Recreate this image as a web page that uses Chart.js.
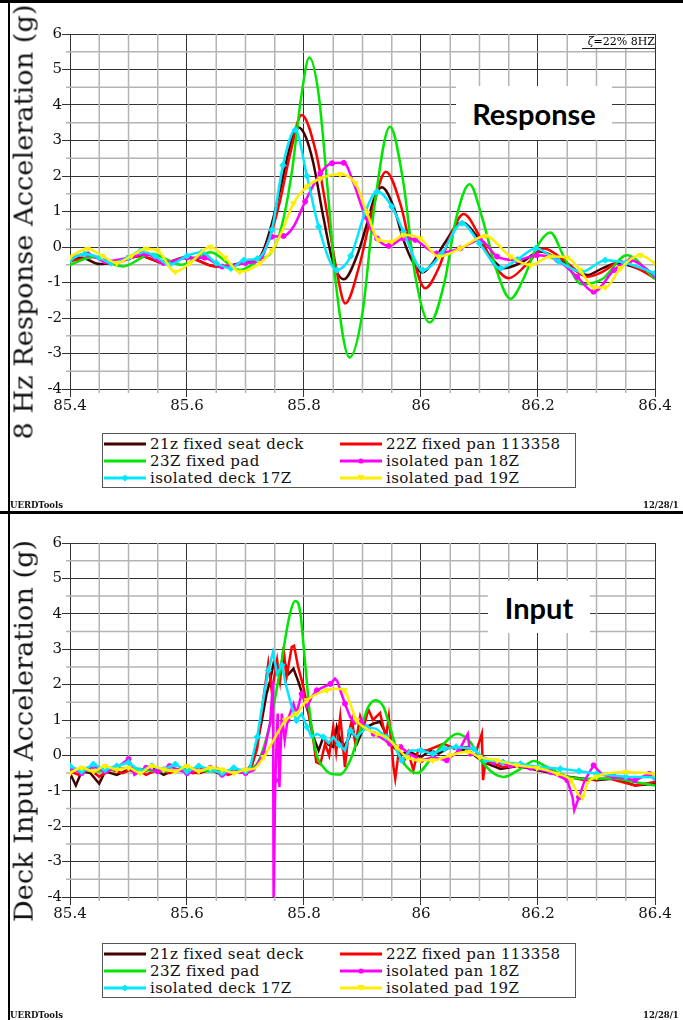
<!DOCTYPE html>
<html>
<head>
<meta charset="utf-8">
<script src="https://cdn.jsdelivr.net/npm/chart.js@4.4.1/dist/chart.umd.min.js"></script>
<style>
  body { margin: 0; width: 683px; height: 1020px; position: relative; overflow: hidden; background: #fff; font-family: "DejaVu Serif", serif; }
  .panel { position: absolute; left: 0; width: 683px; }
  .panel canvas { position: absolute; left: 0; top: 0; }
  .rule { position: absolute; background: #000; }
  .ytitle { position: absolute; font-size: 26px; white-space: nowrap; color: #111; transform-origin: center center; }
  .legend { position: absolute; left: 102px; width: 472px; height: 53px; border: 1px solid #555; background: #fff; }
  .item { position: absolute; height: 18px; display: flex; align-items: center; font-size: 15px; letter-spacing: 0.4px; color: #111; white-space: nowrap; }
  .item svg { margin-right: 4px; }
  .foot { position: absolute; font-size: 8.5px; font-weight: bold; color: #111; }
  .tag { position: absolute; background: #fff; font-family: Lato, sans-serif; font-weight: bold; color: #000; display: flex; align-items: center; justify-content: center; }
  .zeta { position: absolute; left: 582px; top: 36px; width: 73px; font-size: 11px; text-align: right; background: #fff; border-bottom: 1px solid #222; line-height: 12px; }
</style>
</head>
<body>

<div class="rule" style="left:0;top:0;width:683px;height:3px"></div>
<div class="rule" style="left:8px;top:0;width:2px;height:1020px"></div>
<div class="rule" style="left:0;top:511px;width:683px;height:3px"></div>

<div class="panel" id="topPanel" style="top:0;height:511px">
  <canvas id="respChart" width="683" height="512"></canvas>
</div>
<div class="panel" id="botPanel" style="top:513px;height:507px">
  <canvas id="inputChart" width="683" height="507"></canvas>
</div>

<script>
// ---- series names / colours (same for both charts) ----
const seriesNames = ["21z fixed seat deck", "22Z fixed pan 113358", "23Z fixed pad",
                     "isolated pan 18Z", "isolated deck 17Z", "isolated pad 19Z"];
const seriesColors = ["#440000", "#ff0000", "#00e600", "#ff00ff", "#00e8ff", "#ffee00"];
const seriesMarkers = [null, null, null, "circle", "rectRot", "triangle"];

const xMin = 85.4, xMax = 86.4, xMajor = 0.2, xMinor = 0.05;
const yMin = -4, yMax = 6, yMajor = 1, yMinor = 0.5;

// ---- Response chart (8 Hz response) ----
const respT_21z = [85.40, 85.42, 85.45, 85.48, 85.52, 85.56, 85.60, 85.64, 85.66, 85.70, 85.725, 85.742, 85.759, 85.776, 85.79, 85.803, 85.816, 85.833, 85.85, 85.868, 85.89, 85.908, 85.919, 85.933, 85.953, 85.97, 85.987, 86.002, 86.02, 86.04, 86.07, 86.10, 86.12, 86.141, 86.17, 86.204, 86.24, 86.284, 86.31, 86.335, 86.37, 86.40];
const respV_21z = [-0.35, -0.3, -0.48, -0.42, -0.25, -0.45, -0.28, -0.52, -0.55, -0.42, -0.27, 0.48, 1.6, 2.83, 3.37, 3.1, 2.36, 0.85, -0.45, -0.91, -0.27, 0.67, 1.32, 1.68, 1.14, 0.2, -0.45, -0.72, -0.45, 0.1, 0.69, 0.2, -0.3, -0.6, -0.45, -0.13, -0.4, -0.79, -0.6, -0.46, -0.6, -0.84];

const respT_22Z = [85.40, 85.44, 85.47, 85.52, 85.56, 85.60, 85.65, 85.70, 85.725, 85.742, 85.759, 85.776, 85.796, 85.82, 85.84, 85.855, 85.8705, 85.895, 85.915, 85.94, 85.965, 85.985, 86.007, 86.03, 86.05, 86.073, 86.10, 86.125, 86.15, 86.18, 86.21, 86.25, 86.284, 86.31, 86.341, 86.37, 86.40];
const respV_22Z = [-0.4, -0.28, -0.48, -0.25, -0.45, -0.3, -0.55, -0.45, -0.3, 0.3, 1.3, 2.6, 3.72, 2.7, 0.9, -0.6, -1.59, -0.5, 0.9, 2.12, 1.2, -0.2, -1.16, -0.6, 0.3, 0.93, 0.3, -0.5, -0.88, -0.5, -0.04, -0.45, -0.84, -0.7, -0.41, -0.6, -0.88];

const respT_23Z = [85.40, 85.44, 85.49, 85.54, 85.59, 85.64, 85.69, 85.72, 85.75, 85.765, 85.78, 85.795, 85.809, 85.825, 85.84, 85.855, 85.878, 85.90, 85.92, 85.947, 85.97, 85.99, 86.015, 86.04, 86.06, 86.083, 86.105, 86.128, 86.153, 86.175, 86.198, 86.221, 86.245, 86.275, 86.31, 86.352, 86.40];
const respV_23Z = [-0.5, -0.28, -0.55, -0.2, -0.5, -0.15, -0.65, -0.4, 0.0, 0.8, 2.2, 4.2, 5.34, 4.3, 1.7, -1.1, -3.11, -1.85, 1.1, 3.39, 1.8, -0.8, -2.13, -1.0, 0.8, 1.77, 0.8, -0.6, -1.46, -0.9, 0.0, 0.41, -0.3, -1.05, -0.9, -0.23, -0.91];

const respT_18Z = [85.40, 85.43, 85.46, 85.50, 85.53, 85.56, 85.60, 85.63, 85.66, 85.70, 85.725, 85.745, 85.765, 85.782, 85.802, 85.828, 85.848, 85.868, 85.885, 85.905, 85.925, 85.945, 85.97, 85.99, 86.027, 86.067, 86.101, 86.13, 86.164, 86.198, 86.233, 86.267, 86.295, 86.33, 86.358, 86.40];
const respV_18Z = [-0.3, -0.2, -0.4, -0.3, -0.2, -0.45, -0.3, -0.3, -0.55, -0.45, -0.37, 0.29, 0.31, 0.57, 1.28, 2.08, 2.36, 2.37, 1.79, 0.85, 0.24, 0.03, 0.24, 0.2, -0.18, -0.04, 0.2, -0.27, -0.37, -0.23, -0.37, -0.84, -1.26, -0.65, -0.37, -0.8];

const respT_17Z = [85.40, 85.425, 85.45, 85.47, 85.50, 85.52, 85.545, 85.57, 85.60, 85.625, 85.65, 85.675, 85.697, 85.72, 85.745, 85.764, 85.785, 85.805, 85.825, 85.856, 85.88, 85.905, 85.925, 85.95, 85.97, 86.003, 86.035, 86.07, 86.10, 86.136, 86.165, 86.196, 86.235, 86.275, 86.315, 86.35, 86.40];
const respV_17Z = [-0.35, -0.2, -0.3, -0.45, -0.3, -0.12, -0.25, -0.5, -0.25, -0.15, -0.45, -0.6, -0.37, -0.33, 0.48, 2.3, 3.3, 2.0, 0.57, -0.65, -0.25, 1.0, 1.56, 1.14, 0.43, -0.65, -0.2, 0.67, 0.1, -0.6, -0.35, -0.04, -0.4, -0.7, -0.37, -0.45, -0.74];

const respT_19Z = [85.40, 85.43, 85.455, 85.48, 85.505, 85.53, 85.55, 85.58, 85.605, 85.64, 85.665, 85.69, 85.725, 85.745, 85.762, 85.782, 85.805, 85.828, 85.862, 85.888, 85.908, 85.927, 85.95, 85.97, 85.999, 86.03, 86.067, 86.11, 86.153, 86.187, 86.221, 86.25, 86.272, 86.295, 86.315, 86.341, 86.375, 86.40];
const respV_19Z = [-0.28, -0.05, -0.25, -0.45, -0.25, -0.05, -0.1, -0.7, -0.45, 0.0, -0.3, -0.7, -0.45, -0.1, 0.43, 1.23, 1.7, 1.93, 2.05, 1.79, 0.95, 0.2, 0.15, 0.34, 0.24, -0.27, -0.04, 0.31, -0.27, -0.51, -0.27, -0.3, -0.65, -1.14, -1.14, -0.6, -0.23, -0.46];

// ---- Input chart (deck input) ----
const inT_21z = [85.40, 85.41, 85.42, 85.435, 85.45, 85.46, 85.48, 85.50, 85.52, 85.54, 85.56, 85.58, 85.60, 85.62, 85.64, 85.66, 85.68, 85.70, 85.711, 85.72, 85.728, 85.736, 85.742, 85.748, 85.756, 85.765, 85.774, 85.782, 85.79, 85.799, 85.808, 85.816, 85.825, 85.833, 85.842, 85.85, 85.856, 85.866, 85.875, 85.882, 85.891, 85.90, 85.907, 85.919, 85.93, 85.94, 85.953, 85.965, 85.98, 86.00, 86.016, 86.03, 86.05, 86.065, 86.08, 86.107, 86.136, 86.165, 86.20, 86.25, 86.30, 86.33, 86.366, 86.40];
const inV_21z = [-0.5, -0.85, -0.45, -0.5, -0.8, -0.45, -0.55, -0.4, -0.5, -0.35, -0.55, -0.4, -0.45, -0.5, -0.4, -0.55, -0.45, -0.5, -0.23, 0.33, 1.0, 1.74, 2.1, 2.6, 2.3, 2.7, 2.3, 2.45, 2.1, 1.65, 1.18, 0.52, 0.14, 0.52, 0.3, 0.24, 0.8, 0.2, 0.43, 0.7, 0.35, 0.7, 0.8, 0.9, 0.95, 0.61, 0.24, 0.05, 0.1, -0.05, 0.14, 0.05, 0.24, 0.15, 0.14, -0.19, -0.38, -0.3, -0.42, -0.6, -0.7, -0.65, -0.85, -0.8];

const inT_22Z = [85.40, 85.415, 85.43, 85.45, 85.47, 85.49, 85.51, 85.53, 85.55, 85.57, 85.59, 85.61, 85.63, 85.65, 85.67, 85.69, 85.71, 85.72, 85.731, 85.739, 85.745, 85.754, 85.759, 85.765, 85.77, 85.779, 85.783, 85.79, 85.799, 85.808, 85.816, 85.821, 85.828, 85.836, 85.843, 85.85, 85.855, 85.862, 85.87, 85.876, 85.882, 85.888, 85.896, 85.902, 85.91, 85.918, 85.93, 85.94, 85.945, 85.953, 85.956, 85.962, 85.97, 85.978, 85.987, 85.995, 86.01, 86.039, 86.055, 86.08, 86.095, 86.104, 86.106, 86.11, 86.12, 86.14, 86.17, 86.20, 86.238, 86.28, 86.32, 86.366, 86.40];
const inV_22Z = [-0.45, -0.55, -0.35, -0.6, -0.4, -0.5, -0.35, -0.55, -0.4, -0.5, -0.35, -0.5, -0.45, -0.35, -0.55, -0.45, -0.35, 0.2, 1.65, 2.6, 1.8, 2.7, 2.1, 3.06, 2.2, 3.06, 3.1, 2.5, 1.93, 1.18, 0.43, -0.19, -0.25, 0.33, 0.0, 0.8, 0.1, 1.1, -0.33, 0.6, 1.0, 0.3, 1.1, 0.8, 1.3, 1.0, 1.2, 0.5, 1.1, -0.33, -0.66, 0.1, -0.2, 0.1, -0.42, 0.15, 0.14, 0.33, 0.2, 0.24, 0.15, 0.61, -0.7, -0.2, -0.2, -0.33, -0.3, -0.33, -0.56, -0.7, -0.65, -0.85, -0.75];

const inT_23Z = [85.40, 85.45, 85.50, 85.55, 85.60, 85.65, 85.70, 85.72, 85.742, 85.759, 85.776, 85.785, 85.793, 85.802, 85.81, 85.821, 85.833, 85.845, 85.862, 85.879, 85.896, 85.91, 85.922, 85.936, 85.947, 85.959, 85.976, 85.993, 86.021, 86.04, 86.062, 86.084, 86.107, 86.141, 86.17, 86.193, 86.21, 86.25, 86.284, 86.33, 86.364, 86.40];
const inV_23Z = [-0.4, -0.45, -0.35, -0.45, -0.4, -0.45, -0.4, -0.23, 0.9, 2.4, 4.0, 4.36, 4.1, 2.6, 1.18, 0.05, -0.33, -0.51, -0.54, -0.14, 0.71, 1.37, 1.56, 1.37, 0.8, 0.14, -0.33, -0.5, 0.0, 0.35, 0.61, 0.38, -0.24, -0.61, -0.38, -0.16, -0.28, -0.6, -0.66, -0.65, -0.75, -0.85];

const inT_18Z = [85.40, 85.42, 85.44, 85.46, 85.48, 85.50, 85.51, 85.53, 85.55, 85.57, 85.60, 85.62, 85.64, 85.66, 85.68, 85.70, 85.714, 85.731, 85.742, 85.747, 85.748, 85.751, 85.755, 85.758, 85.762, 85.767, 85.772, 85.776, 85.782, 85.787, 85.796, 85.805, 85.813, 85.822, 85.833, 85.845, 85.853, 85.857, 85.862, 85.87, 85.879, 85.887, 85.896, 85.907, 85.919, 85.93, 85.947, 85.965, 85.98, 86.00, 86.021, 86.044, 86.065, 86.08, 86.084, 86.10, 86.124, 86.153, 86.187, 86.221, 86.25, 86.259, 86.262, 86.27, 86.28, 86.295, 86.31, 86.33, 86.366, 86.39, 86.40];
const inV_18Z = [-0.35, -0.5, -0.3, -0.45, -0.35, -0.1, -0.55, -0.35, -0.45, -0.3, -0.5, -0.4, -0.35, -0.55, -0.45, -0.5, -0.42, 0.05, 0.9, 2.1, -4.0, -0.7, 1.18, -0.9, 1.18, 0.43, 1.0, 1.18, 1.46, 1.18, 1.74, 1.37, 1.65, 1.84, 1.93, 2.02, 2.17, 2.1, 1.84, 1.46, 1.08, 0.9, 0.99, 0.8, 0.61, 0.52, 0.33, 0.24, 0.05, -0.14, -0.05, -0.14, 0.14, 0.61, 0.05, 0.0, -0.19, -0.28, -0.35, -0.47, -0.7, -1.18, -1.55, -1.18, -0.7, -0.28, -0.55, -0.6, -0.7, -0.52, -0.7];

const inT_17Z = [85.40, 85.42, 85.44, 85.46, 85.48, 85.50, 85.52, 85.54, 85.56, 85.58, 85.60, 85.62, 85.64, 85.66, 85.68, 85.70, 85.708, 85.72, 85.731, 85.739, 85.747, 85.754, 85.762, 85.77, 85.779, 85.787, 85.796, 85.805, 85.813, 85.822, 85.833, 85.842, 85.85, 85.86, 85.87, 85.879, 85.89, 85.907, 85.924, 85.94, 85.953, 85.967, 85.981, 86.00, 86.02, 86.04, 86.06, 86.09, 86.11, 86.14, 86.17, 86.20, 86.238, 86.27, 86.30, 86.35, 86.40];
const inV_17Z = [-0.3, -0.45, -0.25, -0.4, -0.3, -0.2, -0.45, -0.3, -0.4, -0.25, -0.45, -0.3, -0.4, -0.5, -0.35, -0.45, -0.33, 0.52, 1.65, 2.4, 2.92, 2.3, 2.55, 1.93, 1.37, 0.99, 1.18, 0.8, 0.52, 0.61, 0.52, 0.35, 0.52, 0.3, 0.14, 0.7, 0.52, 0.8, 0.75, 0.52, 0.33, -0.14, 0.14, 0.14, 0.05, 0.19, 0.24, 0.19, -0.14, -0.19, -0.24, -0.33, -0.38, -0.44, -0.52, -0.6, -0.62];

const inT_19Z = [85.40, 85.42, 85.44, 85.46, 85.48, 85.50, 85.52, 85.54, 85.56, 85.58, 85.60, 85.62, 85.64, 85.66, 85.68, 85.70, 85.714, 85.731, 85.748, 85.768, 85.787, 85.805, 85.822, 85.839, 85.856, 85.869, 85.879, 85.89, 85.907, 85.924, 85.94, 85.958, 85.976, 85.998, 86.02, 86.05, 86.08, 86.10, 86.13, 86.164, 86.198, 86.233, 86.256, 86.268, 86.276, 86.284, 86.30, 86.35, 86.40];
const inV_19Z = [-0.5, -0.35, -0.45, -0.3, -0.4, -0.35, -0.5, -0.3, -0.4, -0.45, -0.3, -0.45, -0.35, -0.4, -0.5, -0.4, -0.38, -0.05, 0.43, 0.99, 1.18, 1.56, 1.74, 1.84, 1.88, 1.84, 1.46, 0.99, 0.75, 0.61, 0.52, 0.24, -0.05, -0.14, -0.14, 0.0, 0.1, -0.05, -0.14, -0.28, -0.35, -0.52, -0.7, -1.08, -1.18, -0.8, -0.6, -0.47, -0.52];

const respSeries = [[respT_21z, respV_21z], [respT_22Z, respV_22Z], [respT_23Z, respV_23Z],
                    [respT_18Z, respV_18Z], [respT_17Z, respV_17Z], [respT_19Z, respV_19Z]];
const inputSeries = [[inT_21z, inV_21z], [inT_22Z, inV_22Z], [inT_23Z, inV_23Z],
                     [inT_18Z, inV_18Z], [inT_17Z, inV_17Z], [inT_19Z, inV_19Z]];

const majorGrid = "#333333";
const minorGrid = "#b4b4b4";

// light minor grid between the major lines, placed with the chart's own scales
const minorGridPlugin = {
  id: "minorGrid",
  beforeDatasetsDraw(chart) {
    const { ctx, chartArea: a, scales: { x, y } } = chart;
    ctx.save();
    ctx.strokeStyle = minorGrid;
    ctx.lineWidth = 1.5;
    ctx.beginPath();
    const nx = Math.round((xMax - xMin) / xMinor);
    for (let k = 1; k < nx; k++) {
      if (k % Math.round(xMajor / xMinor) === 0) continue;
      const px = x.getPixelForValue(xMin + k * xMinor);
      ctx.moveTo(px, a.top);
      ctx.lineTo(px, a.bottom + 4);
    }
    const ny = Math.round((yMax - yMin) / yMinor);
    for (let k = 1; k < ny; k++) {
      if (k % Math.round(yMajor / yMinor) === 0) continue;
      const py = y.getPixelForValue(yMin + k * yMinor);
      ctx.moveTo(a.left - 4, py);
      ctx.lineTo(a.right, py);
    }
    ctx.stroke();
    ctx.restore();
  }
};

// markers only every ~0.02 s, like the original plot
function markerRadii(t, r) {
  let last = -1;
  return t.map(x => {
    if (last < 0 || x - last >= 0.018) { last = x; return r; }
    return 0;
  });
}

function buildDatasets(series, jagged) {
  const drawOrder = [6, 5, 4, 3, 2, 1];
  return series.map(([t, v], i) => {
    const ds = {
      label: seriesNames[i],
      data: t.map((x, k) => ({ x: x, y: v[k] })),
      borderColor: seriesColors[i],
      backgroundColor: seriesColors[i],
      borderWidth: 2.5,
      order: drawOrder[i],
      pointRadius: 0,
      cubicInterpolationMode: "monotone",
      tension: 0.4
    };
    if (jagged && i !== 2 && i !== 5) {
      ds.cubicInterpolationMode = "default";
      ds.tension = 0;
    }
    if (seriesMarkers[i]) {
      ds.pointStyle = seriesMarkers[i];
      ds.pointRadius = markerRadii(t, seriesMarkers[i] === "circle" ? 2.5 : 3.2);
      ds.pointBorderWidth = 1;
      ds.pointBorderColor = seriesColors[i];
      ds.pointBackgroundColor = seriesColors[i];
      ds.pointRotation = seriesMarkers[i] === "triangle" ? 180 : 0;
    }
    return ds;
  });
}

function makeChart(canvasId, datasets, padTop) {
  const tickFont = { family: "DejaVu Serif", size: 15 };
  return new Chart(document.getElementById(canvasId), {
    type: "line",
    data: { datasets },
    plugins: [minorGridPlugin],
    options: {
      responsive: false,
      animation: false,
      devicePixelRatio: 1,
      layout: { padding: { left: 0, right: 28, top: padTop, bottom: 93 } },
      plugins: { legend: { display: false }, tooltip: { enabled: false } },
      scales: {
        x: {
          type: "linear",
          min: xMin,
          max: xMax,
          afterFit: s => { s.height = 30; },
          ticks: {
            stepSize: xMajor,
            autoSkip: false,
            maxRotation: 0,
            minRotation: 0,
            padding: 0,
            color: "#111",
            font: tickFont,
            callback: v => String(Math.round(v * 10) / 10)
          },
          grid: { color: majorGrid, tickColor: majorGrid },
          border: { color: majorGrid }
        },
        y: {
          min: yMin,
          max: yMax,
          afterFit: s => { s.width = 70; },
          ticks: {
            stepSize: yMajor,
            autoSkip: false,
            padding: 0,
            color: "#111",
            font: tickFont,
            callback: v => String(Math.round(v))
          },
          grid: { color: majorGrid, tickColor: majorGrid },
          border: { color: majorGrid }
        }
      }
    }
  });
}

makeChart("respChart", buildDatasets(respSeries, false), 34);
makeChart("inputChart", buildDatasets(inputSeries, true), 30);

// ---- page decorations: axis titles, legends, labels ----
function addEl(parent, cls, html, style) {
  const el = document.createElement("div");
  el.className = cls;
  el.innerHTML = html;
  Object.assign(el.style, style);
  parent.appendChild(el);
  return el;
}

function yTitle(parent, text, cx, cy, length) {
  const el = addEl(parent, "ytitle", text, {});
  const w = el.offsetWidth, h = el.offsetHeight;
  el.style.left = (cx - w / 2) + "px";
  el.style.top = (cy - h / 2) + "px";
  el.style.transform = "rotate(-90deg) scaleX(" + (length / w) + ")";
}

function sampleSvg(i) {
  const c = seriesColors[i];
  let mark = "";
  if (seriesMarkers[i] === "circle") mark = `<circle cx="21" cy="5" r="2.6" fill="${c}"/>`;
  if (seriesMarkers[i] === "rectRot") mark = `<polygon points="21,1.5 24.5,5 21,8.5 17.5,5" fill="${c}"/>`;
  if (seriesMarkers[i] === "triangle") mark = `<polygon points="17.5,2 24.5,2 21,8" fill="${c}"/>`;
  return `<svg width="42" height="10"><line x1="0" y1="5" x2="42" y2="5" stroke="${c}" stroke-width="3"/>${mark}</svg>`;
}

function legend(parent, top) {
  const box = addEl(parent, "legend", "", { top: top + "px" });
  const rows = [10, 27, 44];
  seriesNames.forEach((name, i) => {
    const col = i % 2, row = Math.floor(i / 2);
    addEl(box, "item", sampleSvg(i) + "<span>" + name + "</span>",
      { left: (col === 0 ? 1 : 237) + "px", top: (rows[row] - 9) + "px" });
  });
}

const topPanel = document.getElementById("topPanel");
const botPanel = document.getElementById("botPanel");

yTitle(topPanel, "8 Hz Response Acceleration (g)", 23, 222, 435);
yTitle(botPanel, "Deck Input Acceleration (g)", 23, 731 - 513, 382);

legend(topPanel, 433);
legend(botPanel, 430);

addEl(topPanel, "foot", "UERDTools", { left: "10px", top: "500px" });
addEl(topPanel, "foot", "12/28/1", { left: "643px", top: "500px" });
addEl(botPanel, "foot", "UERDTools", { left: "10px", top: "497px" });
addEl(botPanel, "foot", "12/28/1", { left: "643px", top: "497px" });

addEl(topPanel, "zeta", "<i>ζ</i>=22% 8HZ", {});
addEl(topPanel, "tag", "Response", { left: "456px", top: "86px", width: "156px", height: "54px", fontSize: "29px" });
addEl(botPanel, "tag", "Input", { left: "488px", top: "68px", width: "102px", height: "52px", fontSize: "29px" });
</script>
</body>
</html>
